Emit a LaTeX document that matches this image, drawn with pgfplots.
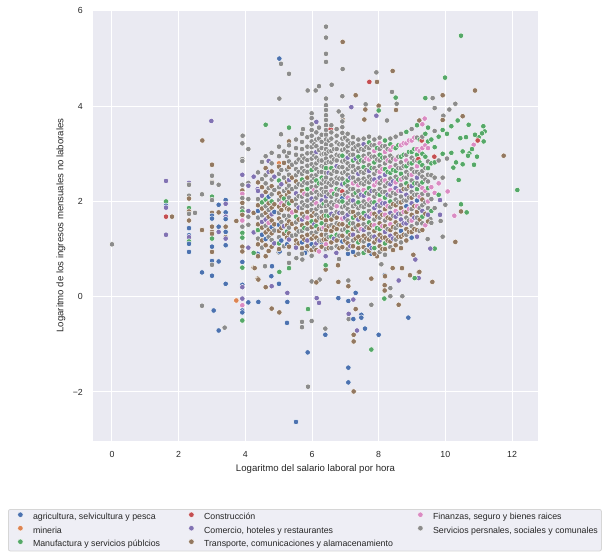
\documentclass[border=0pt]{standalone}
\usepackage{pgfplots}
\pgfplotsset{compat=1.18}
\usepackage{fontspec}
\setmainfont{Liberation Sans}
\definecolor{cA}{HTML}{4C72B0}
\definecolor{cM}{HTML}{DD8452}
\definecolor{cF}{HTML}{55A868}
\definecolor{cC}{HTML}{C44E52}
\definecolor{cR}{HTML}{8172B3}
\definecolor{cT}{HTML}{937860}
\definecolor{cP}{HTML}{DA8BC3}
\definecolor{cS}{HTML}{8C8C8C}
\definecolor{bgc}{HTML}{EAEAF2}
\definecolor{txt}{HTML}{262626}
\definecolor{legbg}{HTML}{EEEEF5}
\definecolor{legedge}{HTML}{D6D6D6}
\begin{document}
\begin{tikzpicture}
\begin{axis}[
  name=ax,
  scale only axis,
  width=445pt, height=431pt,
  xmin=-0.57, xmax=12.78, ymin=-3.03, ymax=6.02,
  axis background/.style={fill=bgc},
  axis line style={draw=none},
  major tick length=0pt,
  grid=major,
  major grid style={white, line width=1pt},
  xtick={0,2,4,6,8,10,12},
  xticklabels={0,2,4,6,8,10,12},
  ytick={-2,0,2,4,6},
  yticklabels={−2,0,2,4,6},
  xticklabel style={font=\fontsize{8.8}{10}\selectfont, text=txt, inner sep=0pt, anchor=north, yshift=-10pt},
  yticklabel style={font=\fontsize{8.8}{10}\selectfont, text=txt, inner sep=0pt, anchor=east, xshift=-10pt},
  xlabel={Logaritmo del salario laboral por hora},
  ylabel={Logaritmo de los ingresos mensuales no laborales},
  xlabel style={font=\fontsize{9.6}{11}\selectfont, text=txt, at={(axis description cs:0.5,0)}, anchor=center, yshift=-28pt},
  ylabel style={font=\fontsize{9.6}{11}\selectfont, text=txt, at={(axis description cs:0,0.5)}, anchor=center, yshift=32pt},
  legend columns=3,
  legend cell align=left,
  legend image code/.code={\path[draw=none,fill=none] (0pt,-2pt) rectangle (16.8pt,2pt); \draw[#1] plot coordinates {(8.4pt,2.6pt)};},
  legend style={at={(-0.1910,-0.1578)}, anchor=north west, fill=legbg, draw=legedge, line width=0.8pt, rounded corners=2pt,
    font=\fontsize{8.8}{10}\selectfont, text=txt, inner xsep=3.6pt, inner ysep=2.6pt,
    nodes={inner sep=0pt, text height=6.4pt, text depth=1.8pt},
    row sep=4.1pt,
    /tikz/every odd column/.append style={column sep=4.2pt},
    /tikz/every even column/.append style={column sep=4pt}},
  scatter/classes={
    a={mark=*, mark size=2.75pt, fill=cA, draw=white},
    m={mark=*, mark size=2.75pt, fill=cM, draw=white},
    f={mark=*, mark size=2.75pt, fill=cF, draw=white},
    c={mark=*, mark size=2.75pt, fill=cC, draw=white},
    r={mark=*, mark size=2.75pt, fill=cR, draw=white},
    t={mark=*, mark size=2.75pt, fill=cT, draw=white},
    p={mark=*, mark size=2.75pt, fill=cP, draw=white},
    s={mark=*, mark size=2.75pt, fill=cS, draw=white}},
]
\addlegendimage{only marks, mark=*, mark size=2.7pt, mark options={fill=cA, draw=white, line width=0.3pt}}
\addlegendentry{\makebox[146pt][l]{agricultura, selvicultura y pesca}}
\addlegendimage{only marks, mark=*, mark size=2.7pt, mark options={fill=cC, draw=white, line width=0.3pt}}
\addlegendentry{\makebox[204pt][l]{Construcción}}
\addlegendimage{only marks, mark=*, mark size=2.7pt, mark options={fill=cP, draw=white, line width=0.3pt}}
\addlegendentry{Finanzas, seguro y bienes raices}
\addlegendimage{only marks, mark=*, mark size=2.7pt, mark options={fill=cM, draw=white, line width=0.3pt}}
\addlegendentry{\makebox[146pt][l]{mineria}}
\addlegendimage{only marks, mark=*, mark size=2.7pt, mark options={fill=cR, draw=white, line width=0.3pt}}
\addlegendentry{\makebox[204pt][l]{Comercio, hoteles y restaurantes}}
\addlegendimage{only marks, mark=*, mark size=2.7pt, mark options={fill=cS, draw=white, line width=0.3pt}}
\addlegendentry{Servicios persnales, sociales y comunales}
\addlegendimage{only marks, mark=*, mark size=2.7pt, mark options={fill=cF, draw=white, line width=0.3pt}}
\addlegendentry{\makebox[146pt][l]{Manufactura y servicios públcios}}
\addlegendimage{only marks, mark=*, mark size=2.7pt, mark options={fill=cT, draw=white, line width=0.3pt}}
\addlegendentry{\makebox[204pt][l]{Transporte, comunicaciones y alamacenamiento}}

\addplot[scatter, only marks, scatter src=explicit symbolic, line width=0.45pt, forget plot]
table[x=x, y=y, meta=c] {
x y c
0.00 1.10 s
1.62 2.43 r
1.62 2.00 f
1.62 1.91 a
1.62 1.87 r
1.62 1.68 c
1.80 1.68 t
1.62 1.30 r
2.31 2.39 r
2.31 2.35 s
2.31 2.12 s
2.31 2.06 t
2.31 1.86 f
2.31 1.79 t
2.31 1.74 s
2.31 1.60 t
2.31 1.44 a
2.31 1.29 a
2.31 1.25 r
2.31 1.16 f
2.31 1.11 a
2.31 0.94 a
2.49 1.76 s
2.70 2.15 s
2.70 1.40 t
2.70 0.51 a
2.70 -0.19 s
2.71 3.28 t
2.98 3.69 r
3.00 2.77 t
3.00 2.54 s
3.00 2.41 t
3.00 2.39 s
3.00 2.10 f
3.00 2.03 s
3.00 1.76 t
3.00 1.70 a
3.00 1.64 a
3.00 1.47 t
3.00 1.36 t
3.00 1.32 t
3.00 1.22 f
3.00 1.05 a
3.00 0.94 t
3.00 0.75 a
3.00 0.67 s
3.00 0.44 a
3.05 -0.29 a
3.20 2.35 s
3.20 1.93 a
3.20 1.77 t
3.20 1.47 a
3.20 1.36 r
3.20 0.74 a
3.20 -0.71 a
3.38 -0.65 s
3.41 2.03 a
3.41 1.95 r
3.41 1.77 a
3.41 1.68 r
3.41 1.63 a
3.41 1.47 t
3.41 1.36 a
3.41 1.25 t
3.41 1.22 r
3.41 1.08 a
3.41 0.27 a
3.73 1.59 t
3.73 -0.08 m
3.91 3.38 s
3.91 3.22 s
3.91 2.89 s
3.91 2.85 s
3.91 2.56 r
3.91 2.35 s
3.91 2.23 t
3.91 2.16 p
3.91 2.07 s
3.91 1.97 t
3.91 1.86 s
3.91 1.79 f
3.91 1.72 t
3.91 1.60 p
3.91 1.47 s
3.91 1.34 f
3.91 1.24 f
3.91 1.05 t
3.91 0.95 t
3.91 0.73 a
3.91 0.61 f
3.91 0.25 a
3.91 0.20 r
3.91 -0.04 r
3.91 -0.18 p
3.91 -0.29 a
3.91 -0.33 a
3.91 -0.50 f
4.09 3.10 s
4.09 2.39 s
4.09 2.33 r
4.09 2.05 s
4.09 1.80 r
4.09 1.68 s
4.09 1.51 s
4.09 1.03 r
4.09 -0.12 a
4.25 2.52 r
4.25 1.76 r
4.25 1.76 t
4.25 1.35 r
4.25 0.92 f
4.25 0.61 t
4.37 2.26 r
4.37 1.39 s
4.37 0.90 a
4.37 0.38 t
4.70 2.85 r
5.31 2.85 a
5.01 2.80 m
6.42 5.67 s
6.42 5.44 s
6.42 5.10 s
6.42 4.93 s
6.92 5.35 t
6.92 4.78 s
5.02 5.00 a
5.07 4.89 s
5.31 4.68 s
5.87 4.33 s
6.11 4.33 s
6.21 4.42 s
6.59 4.45 s
5.02 4.16 s
6.42 4.16 s
6.91 4.21 s
7.31 4.23 t
7.72 4.51 c
7.95 4.51 t
7.93 4.71 s
8.42 4.74 t
8.40 4.30 s
8.51 4.18 f
8.54 4.05 s
8.52 3.92 t
9.40 4.17 f
9.62 4.17 s
7.61 4.04 s
8.00 4.01 t
7.60 3.93 t
8.00 3.91 f
7.18 3.98 r
6.80 3.89 s
5.99 3.85 s
7.93 3.80 r
4.61 3.61 f
5.31 3.55 f
6.13 3.67 r
6.92 3.72 t
7.57 3.72 t
3.92 3.38 s
5.07 3.41 s
5.73 3.52 s
5.31 3.26 t
9.38 3.74 p
9.22 3.70 t
8.25 3.70 s
10.47 5.48 f
9.99 4.60 f
10.89 4.33 t
9.92 4.23 t
10.30 4.05 s
10.12 3.93 s
9.68 3.96 s
9.94 3.80 s
10.52 3.79 t
10.37 3.70 f
9.92 3.71 t
10.70 3.61 f
11.14 3.58 f
11.18 3.47 f
11.10 3.43 f
11.00 3.35 f
10.89 3.40 f
11.15 3.26 f
10.62 3.35 f
10.45 3.33 f
10.85 3.19 p
10.72 3.01 f
10.68 2.96 f
10.95 2.94 f
10.86 2.77 f
10.80 3.10 f
11.75 2.96 t
12.16 2.24 f
10.32 2.82 f
10.24 2.71 f
10.40 2.45 f
10.07 2.21 p
10.00 1.93 s
10.47 1.94 f
10.47 1.79 t
10.64 1.77 f
10.27 1.70 p
9.92 1.26 s
10.30 1.15 t
9.86 1.59 s
9.84 1.72 r
9.55 1.63 s
9.84 2.03 r
5.52 -2.63 a
5.88 -1.89 s
5.87 -1.17 a
7.09 -1.49 a
7.09 -1.80 a
7.25 -1.99 t
7.78 -1.11 f
8.00 -0.80 a
8.89 -0.44 a
7.35 -0.71 r
7.25 -0.80 t
7.25 -0.94 t
7.59 -0.67 a
6.40 -0.67 s
6.40 -0.80 a
5.25 -0.55 a
5.70 -0.53 s
5.70 -0.64 s
5.99 -0.51 s
7.48 -0.38 a
7.48 -0.44 a
7.10 -0.47 s
7.10 -0.36 r
7.24 -0.47 a
7.31 -0.26 t
5.26 -0.11 a
4.39 -0.11 a
4.79 -0.25 t
5.02 -0.33 t
5.88 -0.26 f
6.14 -0.03 r
6.21 -0.13 r
6.79 -0.03 a
7.09 -0.09 a
7.24 -0.06 r
7.78 -0.17 s
7.31 0.08 a
8.17 -0.04 f
8.35 0.01 s
8.71 0.01 s
8.60 -0.17 t
5.26 0.08 r
4.78 0.43 a
5.01 0.27 a
4.39 0.36 t
4.61 0.20 t
4.79 0.22 r
5.99 0.32 s
6.23 0.36 s
6.79 0.31 t
7.09 0.34 s
7.09 0.22 t
7.78 0.38 t
8.18 0.45 a
8.18 0.24 t
8.18 0.13 t
8.35 0.18 s
9.61 0.31 t
8.94 0.45 t
9.20 0.51 t
9.20 0.39 r
9.08 0.39 f
8.60 0.34 r
6.73 0.92 r
6.41 0.99 a
6.78 0.66 t
6.81 0.79 s
7.08 0.90 a
7.09 1.13 s
7.31 0.88 t
7.78 0.90 a
7.95 0.85 t
8.08 0.68 s
8.42 0.60 t
8.19 0.43 t
8.70 0.60 t
9.10 0.78 r
9.22 0.52 t
9.68 1.01 f
9.55 1.01 r
9.47 1.21 s
9.04 0.88 t
6.13 0.30 t
6.41 0.57 t
4.80 0.64 a
5.31 0.71 s
5.00 0.93 s
5.03 0.95 a
4.38 0.85 t
5.02 0.52 f
6.41 0.66 f
6.41 0.85 r
5.83 0.95 s
5.71 0.78 s
5.53 1.09 t
5.53 0.81 s
4.25 0.92 f
4.28 0.60 t
4.59 0.64 s
4.61 0.85 t
5.31 0.60 f
5.79 0.92 a
6.29 1.13 a
6.79 1.19 s
4.38 2.61 s
4.38 2.40 t
4.38 2.22 r
4.38 2.05 s
4.38 1.92 t
4.38 1.80 a
4.38 1.66 s
4.38 1.52 t
4.38 1.40 f
4.38 1.22 s
4.38 1.10 t
4.50 2.83 s
4.50 2.47 s
4.50 2.30 t
4.50 2.12 r
4.50 1.98 f
4.50 1.85 t
4.50 1.71 s
4.50 1.57 r
4.50 1.45 t
4.50 1.30 a
4.50 1.18 t
4.50 1.03 s
4.61 2.95 s
4.61 2.70 t
4.61 2.55 s
4.61 2.38 s
4.61 2.20 t
4.61 2.04 f
4.61 1.90 s
4.61 1.76 t
4.61 1.62 r
4.61 1.49 s
4.61 1.35 t
4.61 1.21 a
4.61 1.08 t
4.70 2.62 r
4.70 2.28 s
4.70 2.10 a
4.70 1.96 t
4.70 1.82 s
4.70 1.68 t
4.70 1.55 p
4.70 1.41 t
4.70 1.26 s
4.70 0.96 t
4.79 3.02 s
4.79 2.80 s
4.79 2.63 t
4.79 2.46 s
4.79 2.32 t
4.79 2.15 s
4.79 2.00 f
4.79 1.87 t
4.79 1.73 r
4.79 1.60 t
4.79 1.46 a
4.79 1.33 t
4.79 1.19 s
4.79 1.05 t
4.87 2.52 r
4.87 2.24 s
4.87 1.94 t
4.87 1.78 a
4.87 1.52 t
4.87 1.39 s
4.87 1.12 r
5.01 3.15 s
5.01 2.95 s
5.01 2.73 t
5.01 2.58 s
5.01 2.44 f
5.01 2.30 s
5.01 2.17 t
5.01 2.03 s
5.01 1.89 t
5.01 1.76 s
5.01 1.64 t
5.01 1.51 a
5.01 1.38 t
5.01 1.25 s
5.01 1.12 f
5.01 1.00 t
5.08 2.66 s
5.08 2.36 r
5.08 2.10 t
5.08 1.96 p
5.08 1.82 t
5.08 1.57 s
5.08 1.44 t
5.08 1.18 a
5.16 3.05 s
5.16 2.81 t
5.16 2.50 s
5.16 2.22 s
5.16 2.06 f
5.16 1.92 t
5.16 1.70 s
5.16 1.48 r
5.16 1.32 t
5.16 1.06 s
5.25 2.95 s
5.25 2.67 s
5.25 2.41 t
5.25 2.27 s
5.25 2.14 t
5.25 1.99 s
5.25 1.85 t
5.25 1.62 s
5.25 1.50 t
5.25 1.37 f
5.25 1.24 t
5.25 1.10 a
5.31 3.18 s
5.31 3.02 s
5.31 2.84 s
5.31 2.72 t
5.31 2.56 s
5.31 2.45 r
5.31 2.33 s
5.31 2.20 t
5.31 2.08 s
5.31 1.96 f
5.31 1.83 t
5.31 1.70 s
5.31 1.58 t
5.31 1.45 s
5.31 1.33 t
5.31 1.20 r
5.31 1.05 t
5.31 0.90 s
5.40 2.77 s
5.40 2.50 t
5.40 2.26 s
5.40 2.01 t
5.40 1.77 p
5.40 1.53 t
5.40 1.28 s
5.52 3.30 s
5.52 3.12 s
5.52 2.98 s
5.52 2.82 s
5.52 2.68 s
5.52 2.55 s
5.52 2.42 t
5.52 2.30 s
5.52 2.17 r
5.52 2.05 s
5.52 1.93 s
5.52 1.80 t
5.52 1.68 f
5.52 1.56 s
5.52 1.43 t
5.52 1.30 s
5.52 1.18 t
5.52 1.03 r
5.60 2.88 s
5.60 2.62 s
5.60 2.36 s
5.60 2.11 s
5.60 1.87 r
5.60 1.62 t
5.60 1.37 s
5.60 1.12 t
5.70 3.42 s
5.70 3.25 s
5.70 3.10 s
5.70 2.96 s
5.70 2.83 s
5.70 2.70 s
5.70 2.58 s
5.70 2.46 f
5.70 2.34 s
5.70 2.22 t
5.70 2.10 s
5.70 1.98 s
5.70 1.86 s
5.70 1.74 t
5.70 1.62 r
5.70 1.50 t
5.70 1.38 s
5.70 1.26 t
5.70 1.14 a
5.70 1.02 t
5.70 0.90 s
5.77 2.90 s
5.77 2.64 s
5.77 2.40 s
5.77 2.16 p
5.77 1.92 s
5.77 1.68 s
5.77 1.44 f
5.77 1.20 t
5.86 3.35 s
5.86 3.15 s
5.86 3.01 s
5.86 2.87 s
5.86 2.75 s
5.86 2.62 s
5.86 2.50 t
5.86 2.38 s
5.86 2.26 f
5.86 2.14 s
5.86 2.02 s
5.86 1.90 s
5.86 1.78 t
5.86 1.66 p
5.86 1.54 t
5.86 1.42 s
5.86 1.30 t
5.86 1.18 r
5.86 1.06 t
5.99 3.75 s
5.99 3.62 s
5.99 3.50 s
5.99 3.38 s
5.99 3.26 s
5.99 3.14 s
5.99 3.02 s
5.99 2.90 s
5.99 2.78 s
5.99 2.66 f
5.99 2.54 s
5.99 2.42 s
5.99 2.30 s
5.99 2.18 s
5.99 2.06 r
5.99 1.94 s
5.99 1.82 s
5.99 1.70 t
5.99 1.58 f
5.99 1.46 t
5.99 1.34 s
5.99 1.22 t
5.99 1.10 a
5.99 0.98 t
5.99 0.86 s
6.07 3.20 s
6.07 2.96 s
6.07 2.72 s
6.07 2.48 s
6.07 2.24 p
6.07 2.00 s
6.07 1.76 t
6.07 1.52 r
6.07 1.28 t
6.07 1.04 s
6.13 3.45 s
6.13 3.30 s
6.13 3.16 s
6.13 3.04 r
6.13 2.92 s
6.13 2.80 s
6.13 2.68 s
6.13 2.56 s
6.13 2.44 f
6.13 2.32 s
6.13 2.20 s
6.13 2.08 s
6.13 1.96 p
6.13 1.84 s
6.13 1.72 s
6.13 1.60 t
6.13 1.48 f
6.13 1.36 s
6.13 1.24 t
6.13 1.12 r
6.13 0.98 t
6.21 3.55 s
6.21 3.32 s
6.21 3.08 s
6.21 2.86 s
6.21 2.62 s
6.21 2.38 f
6.21 2.14 s
6.21 1.90 s
6.21 1.66 s
6.21 1.42 t
6.21 1.18 s
6.21 0.95 p
6.29 3.40 s
6.29 3.25 s
6.29 3.12 s
6.29 2.99 s
6.29 2.86 s
6.29 2.74 s
6.29 2.62 s
6.29 2.50 f
6.29 2.38 s
6.29 2.26 s
6.29 2.14 s
6.29 2.02 r
6.29 1.90 s
6.29 1.78 s
6.29 1.66 t
6.29 1.54 f
6.29 1.42 s
6.29 1.30 t
6.29 1.18 s
6.29 1.05 t
6.35 3.00 s
6.35 2.72 s
6.35 2.45 s
6.35 2.20 s
6.35 1.95 f
6.35 1.70 t
6.35 1.45 p
6.35 1.20 t
6.42 4.02 s
6.42 3.92 s
6.42 3.81 s
6.42 3.71 s
6.42 3.60 s
6.42 3.50 s
6.42 3.40 s
6.42 3.30 s
6.42 3.20 s
6.42 3.10 s
6.42 3.00 s
6.42 2.90 s
6.42 2.80 s
6.42 2.70 f
6.42 2.60 s
6.42 2.50 s
6.42 2.40 s
6.42 2.30 s
6.42 2.20 s
6.42 2.10 r
6.42 2.00 s
6.42 1.90 s
6.42 1.80 s
6.42 1.70 f
6.42 1.60 t
6.42 1.50 s
6.42 1.40 t
6.42 1.30 s
6.42 1.20 t
6.42 1.10 p
6.42 1.00 s
6.50 3.28 s
6.50 3.05 s
6.50 2.83 s
6.50 2.60 r
6.50 2.38 s
6.50 2.15 s
6.50 1.92 s
6.50 1.70 f
6.50 1.48 t
6.50 1.25 s
6.50 1.02 t
6.56 3.52 c
6.56 2.70 c
6.58 3.60 s
6.58 3.45 s
6.58 3.32 s
6.58 3.18 s
6.58 3.06 s
6.58 2.94 s
6.58 2.82 s
6.58 2.70 f
6.58 2.58 s
6.58 2.46 s
6.58 2.34 s
6.58 2.22 p
6.58 2.10 s
6.58 1.98 s
6.58 1.86 s
6.58 1.74 r
6.58 1.62 t
6.58 1.50 s
6.58 1.38 t
6.58 1.26 f
6.58 1.14 t
6.58 1.02 s
6.66 3.10 s
6.66 2.88 s
6.66 2.64 s
6.66 2.40 s
6.66 2.16 f
6.66 1.93 s
6.66 1.70 s
6.66 1.46 t
6.66 1.22 r
6.74 3.52 s
6.74 3.38 s
6.74 3.24 s
6.74 3.10 s
6.74 2.98 s
6.74 2.86 s
6.74 2.74 r
6.74 2.62 s
6.74 2.50 s
6.74 2.38 s
6.74 2.26 f
6.74 2.14 s
6.74 2.02 s
6.74 1.90 p
6.74 1.78 s
6.74 1.66 t
6.74 1.54 s
6.74 1.42 t
6.74 1.30 f
6.74 1.18 t
6.74 1.06 s
6.82 3.20 s
6.82 2.96 s
6.82 2.72 s
6.82 2.48 s
6.82 2.24 s
6.82 2.00 s
6.82 1.76 r
6.82 1.52 t
6.82 1.28 s
6.82 1.02 t
6.91 3.80 s
6.91 3.68 s
6.91 3.56 s
6.91 3.44 s
6.91 3.32 s
6.91 3.20 s
6.91 3.08 s
6.91 2.96 f
6.91 2.84 s
6.91 2.72 s
6.91 2.60 s
6.91 2.48 s
6.91 2.36 r
6.91 2.21 c
6.91 2.12 s
6.91 2.07 a
6.91 2.00 f
6.91 1.88 s
6.91 1.76 s
6.91 1.64 p
6.91 1.52 t
6.91 1.40 s
6.91 1.28 t
6.91 1.16 a
6.91 1.04 t
6.99 3.34 s
6.99 3.10 s
6.99 2.86 s
6.99 2.62 s
6.99 2.38 f
6.99 2.14 s
6.99 1.90 s
6.99 1.66 r
6.99 1.42 s
6.99 1.18 t
7.07 3.42 s
7.07 3.28 s
7.07 3.16 s
7.07 3.04 s
7.07 2.92 r
7.07 2.80 s
7.07 2.68 s
7.07 2.56 s
7.07 2.44 f
7.07 2.32 s
7.07 2.20 s
7.07 2.08 p
7.07 1.96 s
7.07 1.84 s
7.07 1.72 r
7.07 1.60 s
7.07 1.48 t
7.07 1.36 f
7.07 1.24 s
7.07 1.12 t
7.07 1.00 s
7.15 3.22 s
7.15 2.98 s
7.15 2.74 s
7.15 2.50 r
7.15 2.26 s
7.15 2.02 s
7.15 1.78 s
7.15 1.54 f
7.15 1.30 t
7.15 1.06 r
7.23 3.35 s
7.23 3.22 s
7.23 3.10 s
7.23 2.98 s
7.23 2.86 f
7.23 2.74 s
7.23 2.62 s
7.23 2.50 s
7.23 2.38 p
7.23 2.26 s
7.23 2.14 s
7.23 2.02 r
7.23 1.90 s
7.23 1.78 t
7.23 1.66 f
7.23 1.54 s
7.23 1.42 t
7.23 1.30 r
7.23 1.18 s
7.23 1.06 t
7.23 0.94 a
7.31 3.15 s
7.31 2.90 r
7.31 2.66 s
7.31 2.42 s
7.31 2.18 f
7.31 1.94 s
7.31 1.70 t
7.31 1.46 s
7.31 1.22 t
7.39 3.30 s
7.39 3.18 s
7.39 3.06 s
7.39 2.94 f
7.39 2.82 s
7.39 2.70 s
7.39 2.58 r
7.39 2.46 s
7.39 2.34 p
7.39 2.22 s
7.39 2.10 s
7.39 1.98 f
7.39 1.86 s
7.39 1.74 s
7.39 1.62 r
7.39 1.50 t
7.39 1.38 s
7.39 1.26 t
7.39 1.14 f
7.39 1.02 t
7.39 0.90 s
7.47 3.10 s
7.47 2.86 f
7.47 2.62 s
7.47 2.38 s
7.47 2.14 r
7.47 1.90 s
7.47 1.66 t
7.47 1.42 p
7.47 1.18 t
7.55 3.32 s
7.55 3.20 r
7.55 3.08 s
7.55 2.96 s
7.55 2.84 s
7.55 2.72 f
7.55 2.60 s
7.55 2.48 s
7.55 2.36 s
7.55 2.24 p
7.55 2.12 r
7.55 2.00 s
7.55 1.88 s
7.55 1.76 f
7.55 1.64 t
7.55 1.52 s
7.55 1.40 r
7.55 1.28 t
7.55 1.16 s
7.55 1.04 t
7.55 0.92 f
7.63 3.14 s
7.63 2.90 p
7.63 2.66 s
7.63 2.42 s
7.63 2.18 f
7.63 1.94 s
7.63 1.70 r
7.63 1.46 s
7.63 1.22 t
7.63 0.98 s
7.71 3.36 s
7.71 3.24 f
7.71 3.12 s
7.71 3.00 s
7.71 2.88 p
7.71 2.76 s
7.71 2.64 r
7.71 2.52 s
7.71 2.40 s
7.71 2.28 f
7.71 2.16 s
7.71 2.04 p
7.71 1.92 s
7.71 1.80 s
7.71 1.68 r
7.71 1.56 f
7.71 1.44 t
7.71 1.32 s
7.71 1.20 t
7.71 1.08 a
7.71 0.96 t
7.79 3.18 s
7.79 2.94 s
7.79 2.70 f
7.79 2.46 s
7.79 2.22 r
7.79 1.98 s
7.79 1.74 p
7.79 1.50 t
7.79 1.26 s
7.79 1.02 r
7.87 3.30 s
7.87 3.18 s
7.87 3.06 p
7.87 2.94 s
7.87 2.82 f
7.87 2.70 s
7.87 2.58 s
7.87 2.46 r
7.87 2.34 p
7.87 2.22 s
7.87 2.10 s
7.87 1.98 f
7.87 1.86 r
7.87 1.74 t
7.87 1.62 s
7.87 1.50 p
7.87 1.38 t
7.87 1.26 r
7.87 1.14 t
7.87 1.02 f
7.87 0.90 t
7.95 3.12 f
7.95 2.88 s
7.95 2.64 s
7.95 2.40 p
7.95 2.16 s
7.95 1.92 r
7.95 1.68 t
7.95 1.44 f
7.95 1.20 t
8.03 3.34 s
8.03 3.22 p
8.03 3.10 s
8.03 2.98 f
8.03 2.86 s
8.03 2.74 s
8.03 2.62 p
8.03 2.50 r
8.03 2.38 s
8.03 2.26 s
8.03 2.14 f
8.03 2.02 p
8.03 1.90 s
8.03 1.78 r
8.03 1.66 s
8.03 1.54 t
8.03 1.42 f
8.03 1.30 t
8.03 1.18 r
8.03 1.06 t
8.03 0.94 s
8.11 3.16 s
8.11 2.92 f
8.11 2.68 p
8.11 2.44 s
8.11 2.20 s
8.11 1.96 r
8.11 1.72 t
8.11 1.48 p
8.11 1.24 t
8.11 1.00 t
8.19 3.28 f
8.19 3.16 s
8.19 3.04 p
8.19 2.92 s
8.19 2.80 s
8.19 2.68 f
8.19 2.56 r
8.19 2.44 p
8.19 2.32 s
8.19 2.20 s
8.19 2.08 f
8.19 1.96 r
8.19 1.84 t
8.19 1.72 p
8.19 1.60 s
8.19 1.48 t
8.19 1.36 r
8.19 1.24 t
8.19 1.12 f
8.19 1.00 t
8.19 0.88 s
8.27 3.10 s
8.27 2.86 p
8.27 2.62 f
8.27 2.38 s
8.27 2.14 r
8.27 1.90 p
8.27 1.66 t
8.27 1.42 s
8.27 1.18 t
8.35 3.32 s
8.35 3.20 f
8.35 3.08 p
8.35 2.96 s
8.35 2.84 s
8.35 2.72 p
8.35 2.60 f
8.35 2.48 s
8.35 2.36 r
8.35 2.24 p
8.35 2.12 s
8.35 2.00 f
8.35 1.88 s
8.35 1.76 r
8.35 1.64 t
8.35 1.52 p
8.35 1.40 t
8.35 1.28 r
8.35 1.16 t
8.35 1.04 s
8.43 3.14 p
8.43 2.90 s
8.43 2.66 f
8.43 2.42 r
8.43 2.18 s
8.43 1.94 t
8.43 1.70 s
8.43 1.46 t
8.43 1.22 r
8.43 0.98 t
8.51 3.36 s
8.51 3.12 f
8.51 2.88 p
8.51 2.76 s
8.51 2.64 f
8.51 2.52 s
8.51 2.40 p
8.51 2.28 r
8.51 2.16 s
8.51 2.04 s
8.51 1.92 t
8.51 1.80 p
8.51 1.68 r
8.51 1.56 t
8.51 1.44 s
8.51 1.32 t
8.51 1.20 s
8.51 1.08 t
8.59 3.18 f
8.59 2.94 s
8.59 2.70 s
8.59 2.46 f
8.59 2.22 p
8.59 1.98 s
8.59 1.74 r
8.59 1.50 s
8.59 1.26 t
8.67 3.42 s
8.67 3.18 p
8.67 2.94 f
8.67 2.82 s
8.67 2.70 s
8.67 2.58 f
8.67 2.46 p
8.67 2.34 s
8.67 2.22 r
8.67 2.10 s
8.67 1.98 t
8.67 1.86 t
8.67 1.74 s
8.67 1.62 r
8.67 1.50 t
8.67 1.38 a
8.67 1.26 t
8.67 1.14 s
8.67 1.02 t
8.75 3.22 p
8.75 2.98 f
8.75 2.74 s
8.75 2.50 s
8.75 2.26 t
8.75 2.02 s
8.75 1.78 p
8.75 1.54 r
8.75 1.30 t
8.83 3.46 f
8.83 3.22 p
8.83 2.98 s
8.83 2.86 p
8.83 2.74 f
8.83 2.62 s
8.83 2.50 s
8.83 2.38 f
8.83 2.26 s
8.83 2.14 r
8.83 2.02 s
8.83 1.90 a
8.83 1.78 t
8.83 1.66 s
8.83 1.54 r
8.83 1.42 t
8.83 1.30 s
8.83 1.18 t
8.91 3.28 p
8.91 3.04 f
8.91 2.80 s
8.91 2.56 s
8.91 2.32 t
8.91 2.08 s
8.91 1.84 p
8.91 1.60 s
8.91 1.36 t
8.99 3.52 s
8.99 3.28 p
8.99 3.04 f
8.99 2.92 s
8.99 2.80 f
8.99 2.68 s
8.99 2.56 p
8.99 2.44 s
8.99 2.32 r
8.99 2.20 s
8.99 2.08 t
8.99 1.96 r
8.99 1.84 s
8.99 1.72 t
8.99 1.60 p
8.99 1.48 s
8.99 1.36 t
8.99 1.24 a
9.07 3.34 p
9.07 3.10 f
9.07 2.86 s
9.07 2.62 s
9.07 2.38 f
9.07 2.14 s
9.07 1.90 t
9.07 1.66 r
9.07 1.42 t
9.15 3.60 f
9.15 3.34 s
9.15 3.10 p
9.15 2.98 f
9.15 2.86 s
9.15 2.74 p
9.15 2.62 s
9.15 2.50 r
9.15 2.38 s
9.15 2.26 f
9.15 2.14 s
9.15 2.02 a
9.15 1.90 p
9.15 1.78 t
9.15 1.66 s
9.15 1.54 s
9.15 1.40 t
9.15 1.26 r
9.19 2.89 c
9.23 3.30 f
9.23 3.06 p
9.23 2.82 f
9.23 2.58 s
9.23 2.34 s
9.23 2.10 p
9.23 1.86 s
9.23 1.62 t
9.23 1.38 s
9.29 3.28 c
9.31 3.62 p
9.31 3.36 s
9.31 3.12 p
9.31 3.00 f
9.31 2.76 f
9.31 2.64 s
9.31 2.52 s
9.31 2.40 f
9.31 2.28 p
9.31 2.16 s
9.31 2.04 t
9.31 1.92 s
9.31 1.80 r
9.31 1.68 f
9.31 1.54 s
9.31 1.40 t
9.40 3.42 f
9.40 3.18 p
9.40 2.94 f
9.40 2.70 s
9.40 2.46 s
9.40 2.22 p
9.40 1.98 s
9.40 1.74 t
9.40 1.50 p
9.48 3.55 f
9.48 3.26 f
9.48 3.12 p
9.48 2.84 s
9.48 2.70 f
9.48 2.56 s
9.48 2.42 s
9.48 2.28 f
9.48 2.14 s
9.48 2.00 p
9.48 1.86 s
9.48 1.72 r
9.48 1.58 t
9.58 3.30 f
9.58 2.80 f
9.58 2.55 s
9.58 2.30 p
9.58 2.05 s
9.58 1.80 f
9.58 1.55 s
9.67 2.94 c
9.68 3.48 s
9.68 3.14 f
9.68 2.82 f
9.68 2.50 s
9.68 2.18 p
9.68 1.86 s
9.80 3.36 f
9.80 2.86 s
9.80 2.38 p
9.80 2.14 f
9.92 3.50 f
9.92 3.00 f
9.92 2.50 s
10.05 3.42 f
10.05 2.90 s
10.18 3.58 f
10.18 3.02 f
10.52 3.05 f
10.52 2.78 f
10.97 3.28 c
};
\end{axis}
\path ([xshift=-93pt,yshift=-117pt]ax.south west) rectangle ([xshift=74pt,yshift=10pt]ax.north east);
\end{tikzpicture}
\end{document}
